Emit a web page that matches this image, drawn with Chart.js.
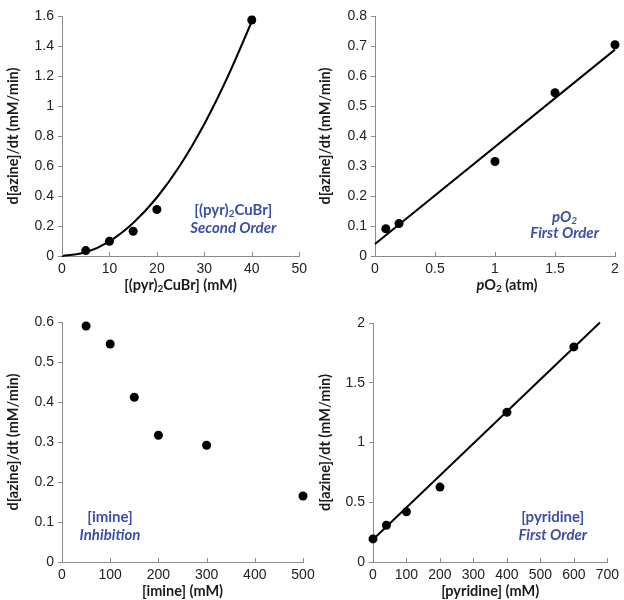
<!DOCTYPE html>
<html>
<head>
<meta charset="utf-8">
<script src="https://cdn.jsdelivr.net/npm/chart.js@4.4.0/dist/chart.umd.min.js"></script>
<style>
body { margin: 0; background: #fff; }
#wrap { position: relative; width: 624px; height: 600px; }
canvas { position: absolute; }
</style>
</head>
<body>
<div id="wrap">
<canvas id="c1" style="left:0;top:0;width:312px;height:300px"></canvas>
<canvas id="c2" style="left:312px;top:0;width:312px;height:300px"></canvas>
<canvas id="c4" style="left:312px;top:300px;width:312px;height:300px"></canvas>
<canvas id="c3" style="left:0;top:300px;width:324px;height:300px"></canvas>
</div>
<script>
// rate data
const cuConc = [5, 10, 15, 20, 40]
const cuRate = [0.036, 0.098, 0.165, 0.31, 1.573]
const cuFitX = [0, 5, 10, 15, 20, 25, 30, 35, 40.5]
const cuFitY = [0, 0.025, 0.098, 0.22, 0.39, 0.61, 0.88, 1.2, 1.6]

const o2Press = [0.09, 0.2, 1, 1.5, 2]
const o2Rate = [0.091, 0.108, 0.315, 0.544, 0.704]
const o2FitX = [0, 2]
const o2FitY = [0.04, 0.688]

const imineConc = [50, 100, 150, 200, 300, 500]
const imineRate = [0.59, 0.545, 0.412, 0.317, 0.292, 0.165]

const pyrConc = [0, 40, 100, 200, 400, 600]
const pyrRate = [0.193, 0.308, 0.42, 0.627, 1.253, 1.8]
const pyrFitX = [0, 678]
const pyrFitY = [0.188, 2.005]

const yTitle = "d[azine]/dt (mM/min)"
const axisGray = "#8a8a8a"
const tickColor = "#222"
const blue = "#3a4fa6"
const tickFont = { family: "'Liberation Sans', Arial, sans-serif", size: 14 }
const titleFont = { family: "Lato, sans-serif", size: 14.5, weight: "bold" }
const plainNum = (v) => String(Number(v.toFixed(3)))

const pts = (xs, ys) => xs.map((v, i) => ({ x: v, y: ys[i] }))

function drawRich(ctx, parts, cx, cy, size, color) {
    const fontFor = (p) => `${p.it ? "italic " : ""}bold ${p.sub ? Math.round(size * 0.68) : size}px Lato, sans-serif`
    let w = 0
    parts.forEach(p => { ctx.font = fontFor(p); w += ctx.measureText(p.t).width })
    let x = cx - w / 2
    ctx.fillStyle = color
    ctx.textAlign = "left"
    ctx.textBaseline = "middle"
    parts.forEach(p => {
        ctx.font = fontFor(p)
        ctx.fillText(p.t, x, p.sub ? cy + size * 0.28 : cy)
        x += ctx.measureText(p.t).width
    })
}

// inward x ticks, notes in blue, and x titles with subscripts
const decor = {
    id: "decor",
    afterDraw(chart, args, opts) {
        const { ctx, scales: { x, y } } = chart
        ctx.save()
        ctx.strokeStyle = axisGray
        ctx.lineWidth = 1
        x.ticks.forEach(t => {
            const px = Math.round(x.getPixelForValue(t.value)) + 0.5
            ctx.beginPath()
            ctx.moveTo(px, y.bottom)
            ctx.lineTo(px, y.bottom - 4)
            ctx.stroke()
        })
        ;(opts.notes || []).forEach(n => {
            drawRich(ctx, n.parts, x.getPixelForValue(n.x), y.getPixelForValue(n.y), 15, blue)
        })
        if (opts.xTitle) {
            const cx = (chart.chartArea.left + chart.chartArea.right) / 2 + (opts.xTitle.dx || 0)
            drawRich(ctx, opts.xTitle.parts, cx, chart.height - opts.xTitle.fromBottom, 14.5, "#1a1a1a")
        }
        ctx.restore()
    }
}

function axisX(min, max, step, title, titlePad, height) {
    return {
        type: "linear", min: min, max: max,
        ticks: { stepSize: step, color: tickColor, font: tickFont, padding: 5, maxRotation: 0, autoSkip: false, callback: plainNum },
        grid: { display: true, drawOnChartArea: false, drawTicks: false, color: axisGray },
        border: { display: true, color: axisGray, width: 1 },
        title: title ? { display: true, text: title, color: "#1a1a1a", font: titleFont, padding: { top: 0, bottom: titlePad } } : { display: false },
        afterFit: (s) => { s.height = height }
    }
}

function axisY(min, max, step, width) {
    return {
        type: "linear", min: min, max: max,
        ticks: { stepSize: step, color: tickColor, font: tickFont, padding: 4, callback: plainNum },
        grid: { display: true, drawOnChartArea: false, drawTicks: true, tickLength: 4, color: axisGray },
        border: { display: true, color: axisGray, width: 1 },
        title: { display: true, text: yTitle, color: "#1a1a1a", font: titleFont, padding: { top: 5, bottom: 0 } },
        afterFit: (s) => { s.width = width }
    }
}

function dotSet(data) {
    return { data: data, showLine: false, pointRadius: 4.5, pointHoverRadius: 4.5, backgroundColor: "#000", borderWidth: 0, clip: false }
}

function fitSet(data, tension) {
    return {
        data: data, showLine: true, pointRadius: 0, borderColor: "#000", borderWidth: 2,
        tension: tension, cubicInterpolationMode: tension ? "monotone" : "default", clip: false
    }
}

function makeChart(id, w, datasets, xAxis, yAxis, pad, decorOpts) {
    const cv = document.getElementById(id)
    cv.width = w
    cv.height = 300
    return new Chart(cv.getContext("2d"), {
        type: "scatter",
        data: { datasets: datasets },
        options: {
            responsive: false,
            animation: false,
            layout: { padding: pad },
            plugins: { legend: { display: false }, tooltip: { enabled: false }, decor: decorOpts },
            scales: { x: xAxis, y: yAxis }
        },
        plugins: [decor]
    })
}

makeChart("c1", 312,
    [dotSet(pts(cuConc, cuRate)), fitSet(pts(cuFitX, cuFitY), 0.4)],
    axisX(0, 50, 10, null, 0, 44), axisY(0, 1.6, 0.2, 62),
    { left: 0, right: 9, top: 16, bottom: 0 },
    {
        notes: [
            { x: 36.1, y: 0.307, parts: [{ t: "[(pyr)" }, { t: "2", sub: true }, { t: "CuBr]" }] },
            { x: 36.1, y: 0.187, parts: [{ t: "Second Order", it: true }] }
        ],
        xTitle: { fromBottom: 15, dx: 0, parts: [{ t: "[(pyr)" }, { t: "2", sub: true }, { t: "CuBr] (mM)" }] }
    })

makeChart("c2", 312,
    [dotSet(pts(o2Press, o2Rate)), fitSet(pts(o2FitX, o2FitY), 0)],
    axisX(0, 2, 0.5, null, 0, 44), axisY(0, 0.8, 0.1, 63),
    { left: 0, right: 9, top: 16, bottom: 0 },
    {
        notes: [
            { x: 1.58, y: 0.13, parts: [{ t: "pO", it: true }, { t: "2", it: true, sub: true }] },
            { x: 1.58, y: 0.077, parts: [{ t: "First Order", it: true }] }
        ],
        xTitle: { fromBottom: 15, dx: 12, parts: [{ t: "p", it: true }, { t: "O" }, { t: "2", sub: true }, { t: " (atm)" }] }
    })

makeChart("c3", 324,
    [dotSet(pts(imineConc, imineRate))],
    axisX(0, 500, 100, "[imine] (mM)", 0, 38), axisY(0, 0.6, 0.1, 62),
    { left: 0, right: 21, top: 22, bottom: 0 },
    {
        notes: [
            { x: 99.6, y: 0.1125, parts: [{ t: "[imine]" }] },
            { x: 99.6, y: 0.0675, parts: [{ t: "Inhibition", it: true }] }
        ]
    })

makeChart("c4", 312,
    [dotSet(pts(pyrConc, pyrRate)), fitSet(pts(pyrFitX, pyrFitY), 0)],
    axisX(0, 700, 100, "[pyridine] (mM)", 0, 38), axisY(0, 2, 0.5, 61),
    { left: 0, right: 11, top: 23, bottom: 0 },
    {
        notes: [
            { x: 537, y: 0.377, parts: [{ t: "[pyridine]" }] },
            { x: 537, y: 0.226, parts: [{ t: "First Order", it: true }] }
        ]
    })
</script>
</body>
</html>
